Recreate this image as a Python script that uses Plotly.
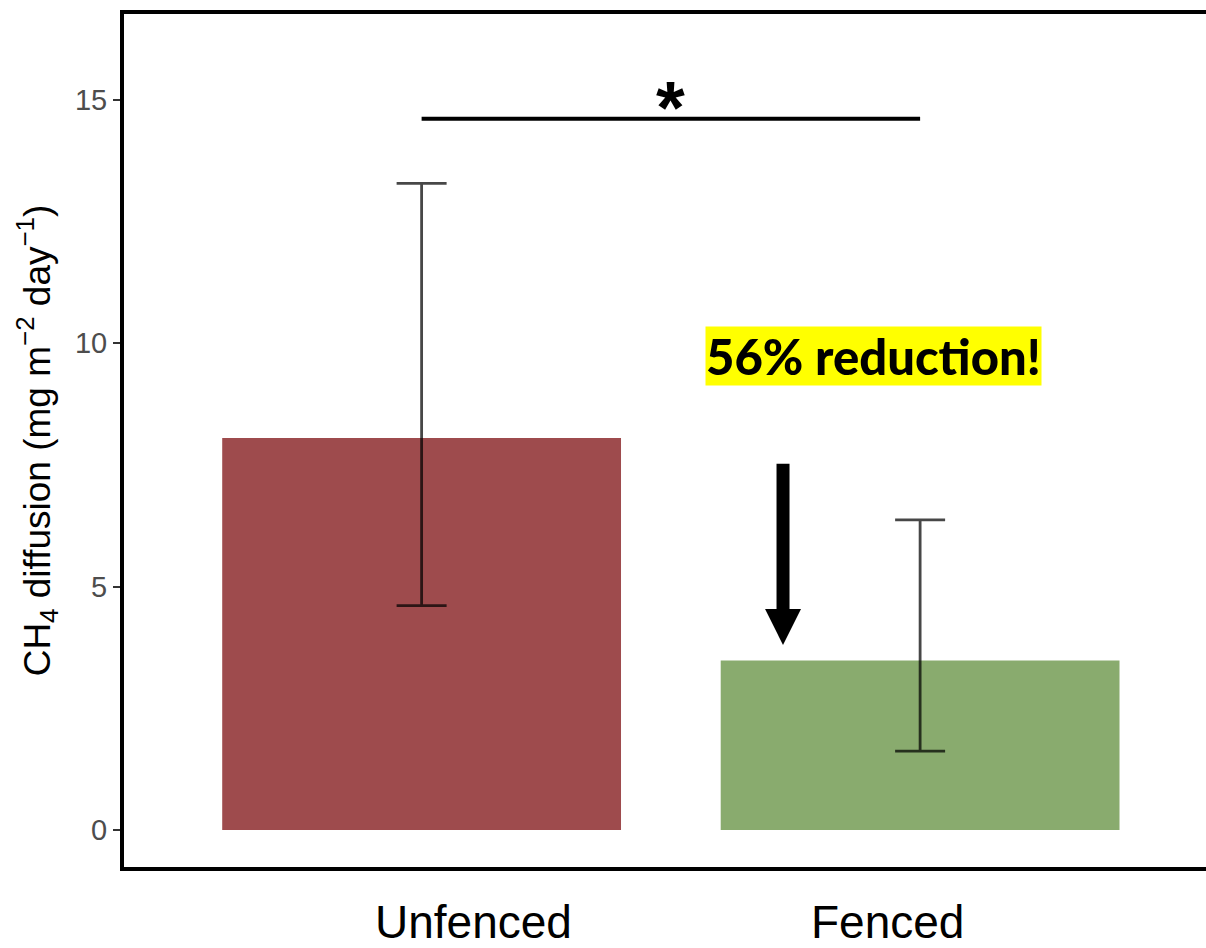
import plotly.graph_objects as go

# Group means with asymmetric uncertainty bounds
categories = ["Unfenced", "Fenced"]
means = [8.05, 3.48]
upper = [13.28, 6.37]
lower = [4.61, 1.62]
bar_colors = ["#9E4B4D", "#89AB6E"]

y_ticks = [0, 5, 10, 15]
y_range = [-0.76, 16.76]
x_range = [-0.597, 1.5735]

# Annotation values
sig_level = 14.61          # height of the significance bracket
sig_label = "*"
reduction_text = "56% reduction!"
reduction_pos = (0.906, 9.73)
arrow_x = 0.725
arrow_top = 7.52
arrow_head_base = 4.54
arrow_tip = 3.80
arrow_half_width = 0.036

err_plus = [u - m for u, m in zip(upper, means)]
err_minus = [m - l for m, l in zip(means, lower)]
xpos = list(range(len(categories)))

fig = go.Figure()
fig.add_trace(go.Bar(
    x=xpos, y=means, width=0.8,
    marker=dict(color=bar_colors, line=dict(width=0)),
    error_y=dict(type="data", symmetric=False, array=err_plus, arrayminus=err_minus,
                 color="rgba(0,0,0,0.72)", thickness=2.8, width=25),
    showlegend=False,
))

# significance bracket
fig.add_shape(type="line", x0=xpos[0], x1=xpos[1], y0=sig_level, y1=sig_level,
              line=dict(color="black", width=4), layer="above")
fig.add_annotation(x=(xpos[0] + xpos[1]) / 2, y=sig_level, text=sig_label, showarrow=False,
                   yanchor="bottom", yshift=-32,
                   font=dict(family="Liberation Sans", size=74, color="black", weight="bold"))

# downward arrow
fig.add_shape(type="line", x0=arrow_x, x1=arrow_x, y0=arrow_top, y1=arrow_head_base,
              line=dict(color="black", width=13), layer="above")
fig.add_shape(type="path",
              path=(f"M {arrow_x - arrow_half_width},{arrow_head_base} "
                    f"L {arrow_x + arrow_half_width},{arrow_head_base} "
                    f"L {arrow_x},{arrow_tip} Z"),
              fillcolor="black", line=dict(width=0), layer="above")

fig.add_annotation(x=reduction_pos[0], y=reduction_pos[1], text=reduction_text, showarrow=False,
                   bgcolor="#FFFF00", borderpad=0,
                   font=dict(family="Lato", size=49, color="black", weight=900))

# category labels below the axis
label_shift = [52, -33]
for xp, name, sh in zip(xpos, categories, label_shift):
    fig.add_annotation(x=xp, y=0, xref="x", yref="paper", text=name, showarrow=False,
                       xshift=sh, yshift=-55, yanchor="middle",
                       font=dict(family="Liberation Sans", size=46, color="black"))

fig.update_xaxes(range=x_range, showticklabels=False, ticks="",
                 showline=True, linecolor="black", linewidth=4, mirror=True,
                 showgrid=False, zeroline=False)
fig.update_yaxes(range=y_range, tickvals=y_ticks, ticks="outside", ticklen=7, tickwidth=2,
                 tickcolor="#333333", tickfont=dict(family="Liberation Sans", size=29, color="#4d4d4d"),
                 showline=True, linecolor="black", linewidth=4, mirror=False,
                 showgrid=False, zeroline=False,
                 title=dict(text="CH<sub>4</sub> diffusion (mg m<sup>\u22122</sup> day<sup>\u22121</sup>)",
                            font=dict(family="Liberation Sans", size=37, color="black"), standoff=14))

fig.update_layout(width=1206, height=948, plot_bgcolor="white", paper_bgcolor="white",
                  margin=dict(l=124, r=0, t=14, b=81), bargap=0.2)

fig.write_html("out.html")
